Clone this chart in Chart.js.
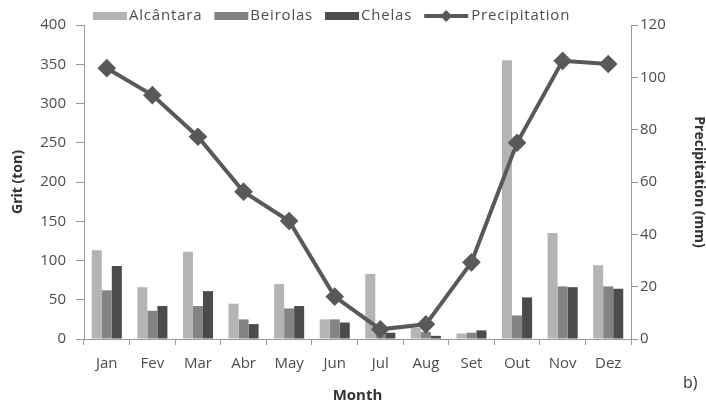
<!DOCTYPE html>
<html>
<head>
<meta charset="utf-8">
<script src="https://cdn.jsdelivr.net/npm/chart.js@4.4.1/dist/chart.umd.min.js"></script>
<style>
  html, body { margin: 0; padding: 0; background: #ffffff; }
  #wrap { position: relative; width: 706px; height: 407px; }
  canvas { display: block; }
</style>
</head>
<body>
<div id="wrap"><canvas id="c" width="706" height="407" style="width:706px;height:407px"></canvas></div>
<script>
const categories = ['Jan', 'Fev', 'Mar', 'Abr', 'May', 'Jun', 'Jul', 'Aug', 'Set', 'Out', 'Nov', 'Dez'];
const alcantara = [113, 66, 111, 45, 70, 25, 83, 14, 7, 355, 135, 94];
const beirolas = [62, 36, 42, 25, 39, 25, 9, 9, 8, 30, 67, 67];
const chelas = [93, 42, 61, 19, 42, 21, 8, 4, 11, 53, 66, 64];
const precipitation = [103.5, 93.2, 77.3, 56.3, 45.1, 16.2, 3.7, 5.6, 29.3, 75, 106.3, 105.1];
const seriesNames = ['Alcântara', 'Beirolas', 'Chelas', 'Precipitation'];
const leftTitle = 'Grit (ton)';
const rightTitle = 'Precipitation (mm)';
const xTitle = 'Month';
const panelLabel = 'b)';

const FONT = "'Open Sans', 'Liberation Sans', sans-serif";
const TXT = '#4d4d4d';
const AXIS = '#9a9a9a';
const C_ALC = '#b4b4b4';
const C_BEI = '#838383';
const C_CHE = '#4b4b4b';
const C_LINE = '#595959';

const legendPlugin = {
  id: 'customLegend',
  afterDraw(chart) {
    const ctx = chart.ctx;
    ctx.save();
    ctx.font = '15px ' + FONT;
    try { ctx.letterSpacing = '0.8px'; } catch (e) {}
    ctx.textBaseline = 'middle';
    ctx.fillStyle = TXT;
    const y = 16;
    let x = 93;
    const ds = chart.data.datasets;
    ds.forEach((d, i) => {
      const w = 34;
      if (d.type === 'line') {
        ctx.strokeStyle = d.borderColor;
        ctx.lineWidth = 4;
        ctx.beginPath();
        ctx.moveTo(x, y); ctx.lineTo(x + w + 10, y);
        ctx.stroke();
        const cx = x + (w + 10) / 2;
        ctx.fillStyle = d.borderColor;
        ctx.beginPath();
        ctx.moveTo(cx, y - 6); ctx.lineTo(cx + 6, y); ctx.lineTo(cx, y + 6); ctx.lineTo(cx - 6, y);
        ctx.closePath(); ctx.fill();
        x += w + 10 + 3;
      } else {
        ctx.fillStyle = d.backgroundColor;
        ctx.fillRect(x, y - 4, w, 8);
        x += w + 2;
      }
      ctx.fillStyle = TXT;
      ctx.textAlign = 'left';
      ctx.fillText(d.label, x, y);
      x += ctx.measureText(d.label).width + 12;
    });
    try { ctx.letterSpacing = '0px'; } catch (e) {}
    ctx.font = '16px ' + FONT;
    ctx.fillStyle = '#333333';
    ctx.fillText(panelLabel, 683, 383);
    ctx.restore();
  }
};

const ctx = document.getElementById('c').getContext('2d');
new Chart(ctx, {
  data: {
    labels: categories,
    datasets: [
      { type: 'bar', label: seriesNames[0], data: alcantara, yAxisID: 'y', backgroundColor: C_ALC, order: 1 },
      { type: 'bar', label: seriesNames[1], data: beirolas, yAxisID: 'y', backgroundColor: C_BEI, order: 1 },
      { type: 'bar', label: seriesNames[2], data: chelas, yAxisID: 'y', backgroundColor: C_CHE, order: 1 },
      { type: 'line', label: seriesNames[3], data: precipitation, yAxisID: 'y1',
        borderColor: C_LINE, backgroundColor: C_LINE, borderWidth: 4,
        pointStyle: 'rectRot', pointRadius: 6.5, pointBackgroundColor: C_LINE,
        pointBorderColor: C_LINE, tension: 0, order: 0 }
    ]
  },
  options: {
    responsive: false,
    animation: false,
    layout: { padding: { top: 25, left: 0, right: 0, bottom: 0 } },
    datasets: { bar: { categoryPercentage: 0.66, barPercentage: 1.0 } },
    plugins: { legend: { display: false }, tooltip: { enabled: false } },
    scales: {
      x: {
        type: 'category',
        offset: true,
        grid: { display: true, drawOnChartArea: false, offset: true, tickLength: 6, color: AXIS },
        border: { display: true, color: AXIS, width: 1 },
        ticks: { color: TXT, font: { family: FONT, size: 15 }, padding: 10, maxRotation: 0 },
        title: { display: true, text: xTitle, color: '#333333', font: { family: FONT, size: 15, weight: 'bold' }, padding: { top: 4, bottom: 2 } },
        afterFit(s) { s.height = 68; }
      },
      y: {
        position: 'left',
        min: 0, max: 400,
        ticks: { stepSize: 50, color: TXT, font: { family: FONT, size: 15 }, padding: 10 },
        grid: { display: true, drawOnChartArea: false, tickLength: 8, color: AXIS },
        border: { display: true, color: AXIS, width: 1 },
        title: { display: true, text: leftTitle, color: '#333333', font: { family: FONT, size: 14, weight: 'bold' }, padding: { top: 10, bottom: 0 } },
        afterFit(s) { s.width = 84; }
      },
      y1: {
        position: 'right',
        min: 0, max: 120,
        ticks: { stepSize: 20, color: TXT, font: { family: FONT, size: 15 }, padding: 2 },
        grid: { display: true, drawOnChartArea: false, tickLength: 7, color: AXIS },
        border: { display: true, color: AXIS, width: 1 },
        title: { display: true, text: rightTitle, color: '#333333', font: { family: FONT, size: 14, weight: 'bold', lineHeight: 1 }, padding: { top: 0, bottom: 0 } },
        afterFit(s) { s.width = 75; }
      }
    }
  },
  plugins: [legendPlugin]
});
</script>
</body>
</html>
